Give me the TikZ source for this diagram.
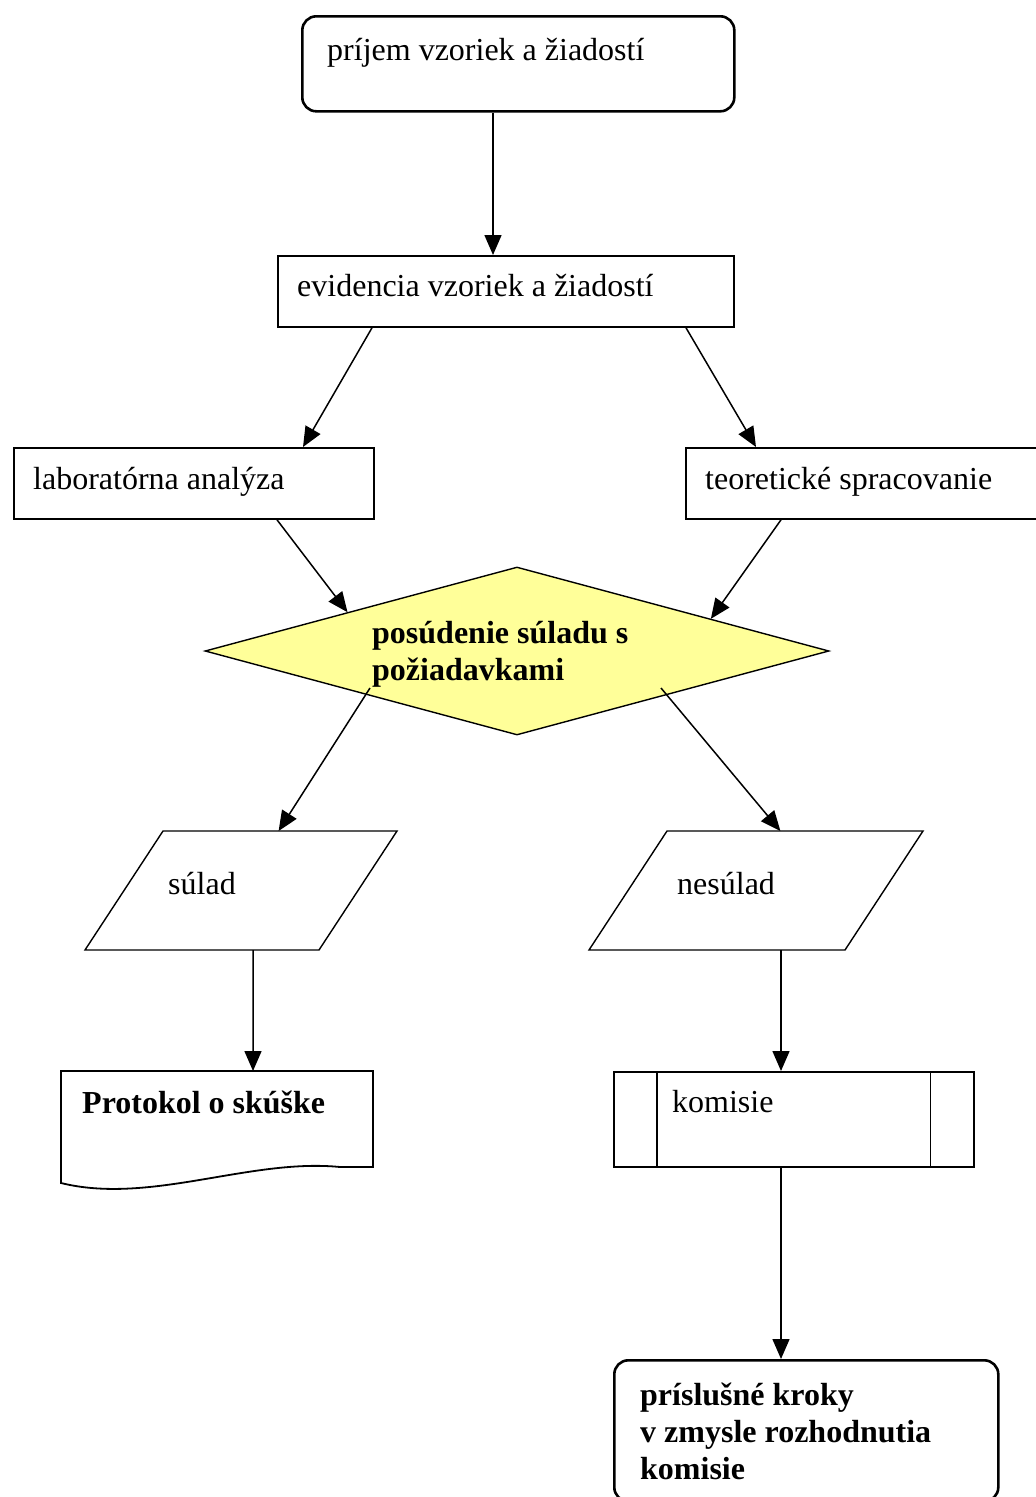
\documentclass[tikz,border=0pt]{standalone}
\usepackage{fontspec}
\setmainfont{Liberation Serif}
\usetikzlibrary{arrows.meta,calc,shapes.geometric}
\definecolor{yellowfill}{HTML}{FFFF99}
\begin{document}
\begin{tikzpicture}[x=1pt,y=-1pt,
 box/.style={draw, line width=1.8pt, inner sep=0pt, anchor=north west, fill=white},
 rbox/.style={box, rounded corners=14pt, line width=2.6pt},
 conn/.style={line width=1.5pt, -{Triangle[length=20pt,width=17pt]}},
 txt/.style={anchor=base west, inner sep=0pt, font=\fontsize{32}{37}\selectfont},
 btxt/.style={txt, font=\fontsize{32}{37}\selectfont\bfseries, align=left},
 shp/.style={draw, line width=1.4pt}]
\useasboundingbox (0,0) rectangle (1036,1497);
\fill[white] (0,0) rectangle (1036,1497);
\clip (0,0) rectangle (1036,1497);

% top rounded box
\node[rbox, minimum width=432pt, minimum height=95pt] (t1) at (301,15) {};
\node[txt] (t1t) at (327,60) {príjem vzoriek a žiadostí};

% evidencia
\node[box, minimum width=456pt, minimum height=71pt] (ev) at (277,255) {};
\node[txt] (evt) at (297,296) {evidencia vzoriek a žiadostí};

% lab / teo
\node[box, minimum width=360pt, minimum height=71pt] (lab) at (13,447) {};
\node[txt] (labt) at (33,489) {laboratórna analýza};
\node[box, minimum width=360pt, minimum height=71pt] (teo) at (685,447) {};
\node[txt] (teot) at (705,489) {teoretické spracovanie};

% decision
\node[diamond, shp, fill=yellowfill, inner sep=0pt, minimum width=624pt, minimum height=168pt] (dia) at (517,651) {};
\node[btxt] (diat) at (372,680) {posúdenie súladu s\\požiadavkami};

% parallelograms
\draw[shp] (163,831) coordinate (s1) -- (397,831) coordinate (s2) -- (319,950) coordinate (s3) -- (85,950) coordinate (s4) -- cycle;
\node[txt] (sult) at (168,894) {súlad};
\draw[shp] (667,831) coordinate (n1) -- (923,831) coordinate (n2) -- (845,950) coordinate (n3) -- (589,950) coordinate (n4) -- cycle;
\node[txt] (nest) at (677,894) {nesúlad};

% document shape
\draw[shp, line width=1.8pt] (61,1071) -- (373,1071) -- (373,1167) -- (340,1167)
  .. controls (250,1158) and (150,1205) .. (61,1183) -- cycle;
\coordinate (docn) at (253,1071);
\node[btxt] (doct) at (82,1113) {Protokol o skúške};

% predefined process
\node[box, minimum width=360pt, minimum height=95pt] (kom) at (613,1071) {};
\draw[line width=1.2pt] ($(kom.north west)+(44,0)$) -- ($(kom.south west)+(44,0)$);
\draw[line width=1.2pt] ($(kom.north east)+(-44,0)$) -- ($(kom.south east)+(-44,0)$);
\node[txt] (komt) at (672,1112) {komisie};

% final
\node[rbox, minimum width=384pt, minimum height=141pt] (fin) at (613,1359) {};
\node[btxt] (fint) at (640,1479) {príslušné kroky\\v zmysle rozhodnutia\\komisie};

% connectors
\draw[conn] ($(t1.south west)+(192,0)$) -- ($(ev.north west)+(216,0)$);
\draw[conn] ($(ev.south west)+(95,0)$) -- ($(lab.north west)+(290,0)$);
\draw[conn] ($(ev.south west)+(409,0)$) -- ($(teo.north west)+(71,0)$);
\draw[conn] ($(lab.south west)+(264,0)$) -- ($(dia.west)!0.458!(dia.north)$);
\draw[conn] ($(teo.south west)+(96,0)$) -- ($(dia.north)!0.62!(dia.east)$);
\draw[conn] ($(dia.center)+(-147,37)$) -- ($(s1)!0.494!(s2)$);
\draw[conn] ($(dia.center)+(144,37)$) -- ($(n1)!0.443!(n2)$);
\draw[conn] ($(s4)!0.718!(s3)$) -- (docn);
\draw[conn] ($(n4)!0.75!(n3)$) -- ($(kom.north west)+(168,0)$);
\draw[conn] ($(kom.south west)+(168,0)$) -- ($(fin.north west)+(168,0)$);
\end{tikzpicture}
\end{document}
